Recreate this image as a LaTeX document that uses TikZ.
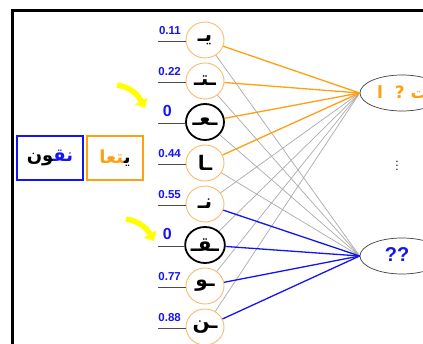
\documentclass[tikz,border=0pt]{standalone}
\usepackage{fontspec}
\setmainfont{Liberation Sans}
\newfontfamily\arabicfont[Script=Arabic]{DejaVu Sans}
\TeXXeTstate=1
\usetikzlibrary{arrows.meta,shapes.geometric}
\definecolor{orn}{HTML}{FFA012}
\definecolor{ornlt}{HTML}{F8BC6C}
\definecolor{blu}{HTML}{1414F5}
\definecolor{gry}{HTML}{ABABAB}
\definecolor{ylw}{HTML}{FFFF00}
\newcommand\arl[1]{{\arabicfont\bfseries\beginR #1\endR}}
\begin{document}
\begin{tikzpicture}[x=1pt,y=-1pt,
  inp/.style={ellipse, draw=ornlt, line width=0.9pt, minimum width=38pt, minimum height=36pt, inner sep=0pt, font=\fontsize{20}{20}\selectfont},
  inpk/.style={inp, draw=black, line width=1.8pt},
  outn/.style={ellipse, draw=black!75, line width=0.7pt, minimum width=84pt, minimum height=36pt, inner sep=0pt},
  lab/.style={anchor=base east, text=blu, inner sep=0pt, font=\bfseries\fontsize{11.5}{12}\selectfont},
  labz/.style={lab, font=\bfseries\fontsize{16}{16}\selectfont},
  stem/.style={draw=black!70, line width=0.8pt},
  ol/.style={draw=orn, line width=1.3pt},
  bl/.style={draw=blu, line width=1.3pt},
  gl/.style={draw=gry, line width=0.7pt},
  yarr/.style={draw=ylw, line width=5.5pt, -{Triangle[length=8pt,width=14pt]}},
  wbox/.style={draw, line width=2pt, minimum width=64pt, minimum height=44pt, inner sep=0pt, font=\fontsize{18}{18}\selectfont}
]
\useasboundingbox (0,0) rectangle (423,344);
\clip (0,0) rectangle (423,344);
\fill[white] (0,0) rectangle (423,344);

% frame
\coordinate (fr1) at (423,11);
\coordinate (fr2) at (12,11);
\coordinate (fr3) at (12,344);
\draw[line width=3pt] (fr1) -- (fr2) -- (fr3);

% input nodes
\node[inp]  (in1) at (205,40)  {\arl{يـ}};
\node[inp]  (in2) at (205,81)  {\arl{ـتـ}};
\node[inpk] (in3) at (205,122) {\arl{ـعـ}};
\node[inp]  (in4) at (205,163) {\arl{ـا}};
\node[inp]  (in5) at (205,204) {\arl{نـ}};
\node[inpk] (in6) at (205,245) {\arl{ـقـ}};
\node[inp]  (in7) at (205,286) {\arl{ـو}};
\node[inp]  (in8) at (205,327) {\arl{ـن}};

% output nodes
\node[outn] (o1) at (402,93) {};
\node[outn] (o2) at (402,256) {};
\node[text=orn, inner sep=0pt, anchor=west] (t1) at (377,93) {\arl{\bfseries\fontsize{17}{17}\selectfont يت ?\ \ ا}};
\node[text=blu, inner sep=0pt, font=\bfseries\fontsize{20}{20}\selectfont] (t2) at (397,255) {??};
\node[inner sep=0pt, font=\fontsize{12}{12}\selectfont] (dots) at (397,163) {$\vdots$};

% connections
\foreach \i in {1,...,4} { \draw[gl] (in\i) -- (o2.west); }
\foreach \i in {5,...,8} { \draw[gl] (in\i) -- (o1.west); }
\foreach \i in {1,...,4} { \draw[ol] (in\i) -- (o1.west); }
\foreach \i in {5,...,8} { \draw[bl] (in\i) -- (o2.west); }

% value labels and stems
\foreach \i/\y in {1/40,2/81,3/122,4/163,5/204,6/245,7/286,8/327} {
  \coordinate (s\i) at (158,\y+1);
  \draw[stem] (s\i) -- (in\i.west |- s\i);
}
\node[lab]  (l1) at (181,35)  {0.11};
\node[lab]  (l2) at (181,76)  {0.22};
\node[labz] (l3) at (172,117) {0};
\node[lab]  (l4) at (181,158) {0.44};
\node[lab]  (l5) at (181,199) {0.55};
\node[labz] (l6) at (172,240) {0};
\node[lab]  (l7) at (181,281) {0.77};
\node[lab]  (l8) at (181,322) {0.88};

% yellow arrows
\coordinate (ya1) at (117,85);
\coordinate (yb1) at (145,108);
\draw[yarr] (ya1) .. controls (129,87) and (137,93) .. (yb1);
\coordinate (ya2) at (126,219);
\coordinate (yb2) at (154,241);
\draw[yarr] (ya2) .. controls (138,221) and (146,227) .. (yb2);

% word boxes (each coloured part is set right to left on its own, the parts left to right)
\node[wbox, draw=blu, minimum width=66pt] (w2) at (50,158) {{\color{black}\arl{‍ون}}{\color{blu}\arl{نق‍}}};
\node[wbox, draw=orn, minimum width=56pt] (w1) at (115,158) {{\color{orn}\arl{‍تعا}}{\color{black}\arl{ي‍}}};
\end{tikzpicture}
\end{document}
